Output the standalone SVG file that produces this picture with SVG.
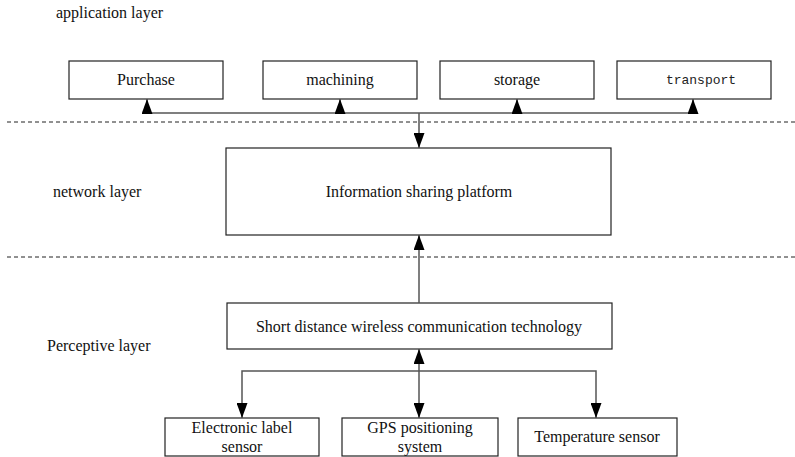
<svg xmlns="http://www.w3.org/2000/svg" width="795" height="457" viewBox="0 0 795 457">
  <style>
    .box { fill: #fff; stroke: #222; stroke-width: 1.2; }
    .t { font-family: "Liberation Serif", "Times New Roman", serif; font-size: 16px; fill: #111; text-anchor: middle; }
    .lbl { font-family: "Liberation Serif", "Times New Roman", serif; font-size: 16px; fill: #111; }
    .mono { font-family: "Liberation Mono", "Courier New", monospace; font-size: 13px; fill: #222; text-anchor: middle; }
    .dash { stroke: #222; stroke-width: 1; stroke-dasharray: 4 3; fill: none; }
    .wire { stroke: #555; stroke-width: 1.5; fill: none; }
  </style>
  <defs>
    <marker id="arrow" viewBox="0 0 15 11" refX="15" refY="5.5" markerWidth="15" markerHeight="11" markerUnits="userSpaceOnUse" orient="auto-start-reverse">
      <path d="M0,0 L15,5.5 L0,11 Z" fill="#000"/>
    </marker>
  </defs>

  <rect width="795" height="457" fill="#fff"/>

  <!-- layer labels -->
  <text class="lbl" x="56" y="18">application layer</text>
  <text class="lbl" x="53" y="197">network layer</text>
  <text class="lbl" x="47" y="351">Perceptive layer</text>

  <!-- layer separators -->
  <line class="dash" x1="7" y1="122" x2="795" y2="122"/>
  <line class="dash" x1="7" y1="257" x2="795" y2="257"/>

  <!-- application layer nodes -->
  <g id="purchase">
    <rect class="box" x="69" y="61" width="154" height="38"/>
    <text class="t" x="146" y="85">Purchase</text>
  </g>
  <g id="machining">
    <rect class="box" x="263" y="61" width="154" height="38"/>
    <text class="t" x="340" y="85">machining</text>
  </g>
  <g id="storage">
    <rect class="box" x="440" y="61" width="154" height="38"/>
    <text class="t" x="517" y="85">storage</text>
  </g>
  <g id="transport">
    <rect class="box" x="617" y="61" width="154" height="38"/>
    <text class="mono" x="701" y="84">transport</text>
  </g>

  <!-- network layer node -->
  <g id="platform">
    <rect class="box" x="226" y="148" width="385" height="87"/>
    <text class="t" x="419" y="197">Information sharing platform</text>
  </g>

  <!-- perceptive layer nodes -->
  <g id="wireless">
    <rect class="box" x="227" y="303" width="385" height="46"/>
    <text class="t" x="419" y="332">Short distance wireless communication technology</text>
  </g>
  <g id="label-sensor">
    <rect class="box" x="165" y="418" width="154" height="38"/>
    <text class="t" x="242" y="433">Electronic label</text>
    <text class="t" x="242" y="452">sensor</text>
  </g>
  <g id="gps">
    <rect class="box" x="342" y="418" width="156" height="38"/>
    <text class="t" x="420" y="433">GPS positioning</text>
    <text class="t" x="420" y="452">system</text>
  </g>
  <g id="temperature">
    <rect class="box" x="518" y="418" width="159" height="38"/>
    <text class="t" x="597" y="442">Temperature sensor</text>
  </g>

  <!-- connectors -->
  <g id="connectors">
    <!-- application bus -->
    <line class="wire" x1="147" y1="113" x2="693" y2="113"/>
    <line class="wire" x1="147" y1="113" x2="147" y2="99" marker-end="url(#arrow)"/>
    <line class="wire" x1="340" y1="113" x2="340" y2="99" marker-end="url(#arrow)"/>
    <line class="wire" x1="517" y1="113" x2="517" y2="99" marker-end="url(#arrow)"/>
    <line class="wire" x1="693" y1="113" x2="693" y2="99" marker-end="url(#arrow)"/>
    <line class="wire" x1="419" y1="113" x2="419" y2="148" marker-end="url(#arrow)"/>
    <!-- wireless to platform -->
    <line class="wire" x1="419" y1="303" x2="419" y2="235" marker-end="url(#arrow)"/>
    <!-- sensor bus -->
    <line class="wire" x1="419" y1="418" x2="419" y2="349" marker-start="url(#arrow)" marker-end="url(#arrow)"/>
    <polyline class="wire" points="242,418 242,371 596,371 596,418" marker-start="url(#arrow)" marker-end="url(#arrow)"/>
  </g>
</svg>
